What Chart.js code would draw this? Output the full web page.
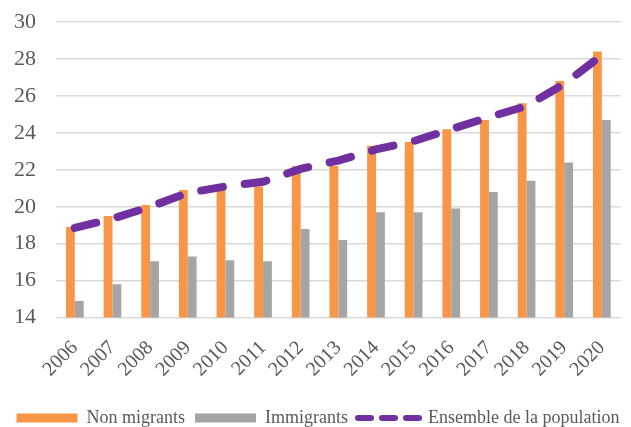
<script src="https://cdn.jsdelivr.net/npm/chart.js"></script>
<body style="margin:0; overflow:hidden; background:#ffffff;">
<div style="width:636px; height:427px;">
    <canvas id="chart1" width="636" height="427"></canvas>
</div>
<script>
    var years = ['2006', '2007', '2008', '2009', '2010', '2011', '2012', '2013', '2014', '2015', '2016', '2017', '2018', '2019', '2020'];
    var nonMigrants = [18.9, 19.5, 20.1, 20.9, 21.2, 21.1, 22.2, 22.2, 23.3, 23.5, 24.2, 24.7, 25.6, 26.8, 28.4];
    var immigrants = [14.9, 15.8, 17.05, 17.3, 17.1, 17.05, 18.8, 18.2, 19.7, 19.7, 19.9, 20.8, 21.4, 22.4, 24.7];
    var ensemble = [18.85, 19.35, 20.0, 20.75, 21.1, 21.35, 22.05, 22.5, 23.1, 23.55, 24.2, 24.85, 25.45, 26.65, 28.2];
    var yMin = 14, yMax = 30, yStep = 2;

    var orange = '#F79646';
    var grey = '#A5A5A5';
    var purple = '#7030A0';

    Chart.defaults.font.family = "'Liberation Serif', serif";
    Chart.defaults.color = '#595959';

    var ctx1 = document.getElementById('chart1').getContext('2d');
    var chart1 = new Chart(ctx1, {
        type: 'bar',
        data: {
            labels: years,
            datasets: [{
                label: 'Non migrants',
                data: nonMigrants,
                backgroundColor: orange,
                categoryPercentage: 0.47,
                barPercentage: 1.0,
                order: 1
            }, {
                label: 'Immigrants',
                data: immigrants,
                backgroundColor: grey,
                categoryPercentage: 0.47,
                barPercentage: 1.0,
                order: 1
            }, {
                type: 'line',
                label: 'Ensemble de la population',
                data: ensemble,
                borderColor: purple,
                backgroundColor: purple,
                borderWidth: 8,
                borderDash: [22, 22],
                borderCapStyle: 'round',
                pointRadius: 0,
                tension: 0,
                fill: false,
                order: 0
            }]
        },
        options: {
            responsive: false,
            animation: false,
            layout: {
                padding: { left: 0, right: 0, top: 22, bottom: -10 }
            },
            plugins: {
                tooltip: { enabled: false },
                legend: {
                    position: 'bottom',
                    labels: {
                        usePointStyle: true,
                        pointStyleWidth: 61,
                        boxHeight: 9,
                        padding: 10,
                        color: '#595959',
                        font: { size: 18, lineHeight: 1 },
                        sort: function(a, b) { return a.datasetIndex - b.datasetIndex; },
                        generateLabels: function(chart) {
                            var items = Chart.defaults.plugins.legend.labels.generateLabels(chart);
                            items.forEach(function(item) {
                                if (item.datasetIndex === 2) {
                                    item.pointStyle = 'line';
                                    item.lineDash = [13, 11];
                                    item.lineWidth = 6;
                                    item.lineCap = 'round';
                                    item.strokeStyle = purple;
                                } else {
                                    item.pointStyle = 'rect';
                                    item.lineWidth = 0;
                                }
                            });
                            return items;
                        }
                    }
                }
            },
            scales: {
                x: {
                    grid: { display: false, drawTicks: false },
                    border: { display: false },
                    afterFit: function(scale) {
                        scale.height = scale.height - 1;
                    },
                    ticks: {
                        autoSkip: false,
                        maxRotation: 45,
                        minRotation: 45,
                        padding: 20,
                        font: { size: 20, lineHeight: 1 }
                    }
                },
                y: {
                    min: yMin,
                    max: yMax,
                    border: { display: false },
                    grid: { color: '#D9D9D9', lineWidth: 1.5, drawTicks: false },
                    afterFit: function(scale) {
                        scale.width = 56;
                        scale.paddingTop = 0;
                        scale.paddingBottom = 0;
                    },
                    ticks: {
                        stepSize: yStep,
                        padding: 20,
                        font: { size: 22 }
                    }
                }
            }
        }
    });
</script>
</body>
